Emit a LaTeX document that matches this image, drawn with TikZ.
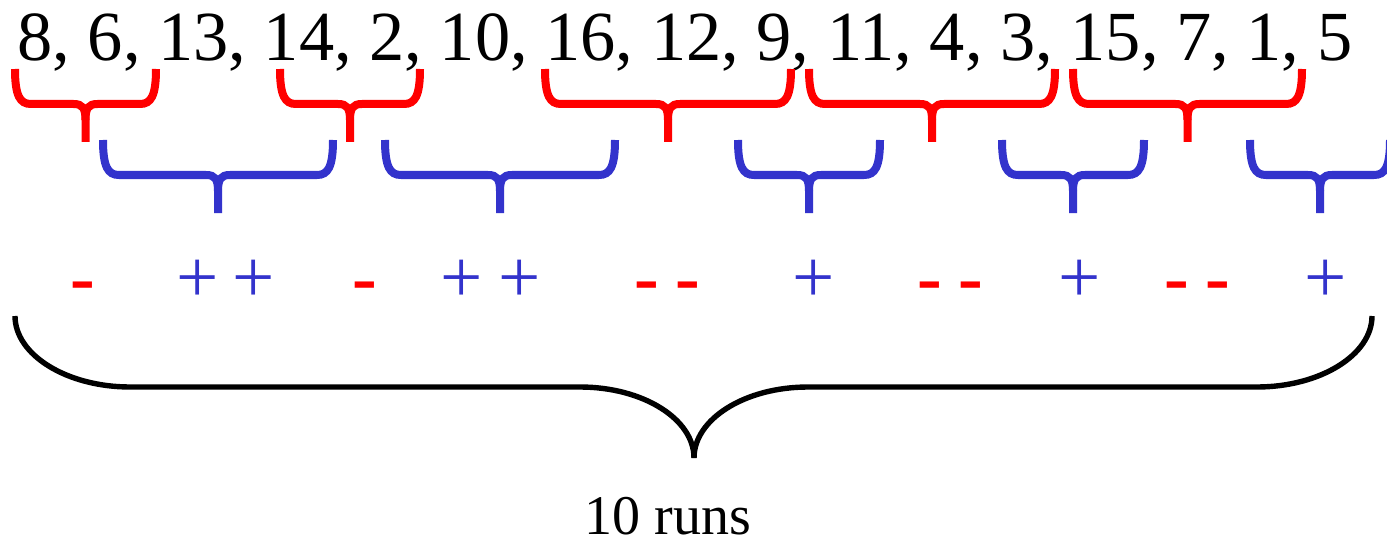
\documentclass[tikz,border=0pt]{standalone}
\usepackage{fontspec}
\setmainfont{Liberation Serif}
\usepackage{xcolor}
\usepackage{tikz}
\usetikzlibrary{positioning}
\definecolor{runred}{RGB}{255,0,0}
\definecolor{runblue}{RGB}{51,51,204}

\begin{document}
\begin{tikzpicture}[
    x=0.5pt, y=-0.5pt,
    seqtext/.style={font=\fontsize{35.2}{40}\selectfont, inner sep=0pt, anchor=base west},
    minus/.style={text=runred, font=\fontsize{37}{40}\selectfont\bfseries, inner sep=0pt, anchor=base},
    plus/.style={text=runblue, font=\fontsize{37.5}{40}\selectfont, inner sep=0pt, anchor=base},
    redbrace/.style={draw=runred, line width=4pt},
    bluebrace/.style={draw=runblue, line width=4pt},
    allbrace/.style={draw=black, line width=2.7pt}
  ]
  \useasboundingbox (0,0) rectangle (1387,540);
  \node[seqtext] (seq) at (17,61) {8, 6, 13, 14, 2, 10, 16, 12, 9, 11, 4, 3, 15, 7, 1, 5};

  % descending runs
  \foreach \a/\b in {15/156, 280/420, 545/791, 809/1055, 1073/1302} {
    \pgfmathsetmacro{\mx}{(\a+\b)/2}
    \draw[redbrace] (\a,69) .. controls (\a,96) and (\a+5,104) .. (\a+16,104) -- (\mx-12,104)
      .. controls (\mx-3,104) and (\mx,108) .. (\mx,120) -- (\mx,142);
    \draw[redbrace] (\b,69) .. controls (\b,96) and (\b-5,104) .. (\b-16,104) -- (\mx+12,104)
      .. controls (\mx+3,104) and (\mx,108) .. (\mx,120);
  }
  % ascending runs
  \foreach \a/\b in {103/333, 385/615, 738/880, 1002/1144, 1250/1390} {
    \pgfmathsetmacro{\mx}{(\a+\b)/2}
    \draw[bluebrace] (\a,140) .. controls (\a,167) and (\a+5,175) .. (\a+16,175) -- (\mx-12,175)
      .. controls (\mx-3,175) and (\mx,179) .. (\mx,191) -- (\mx,213);
    \draw[bluebrace] (\b,140) .. controls (\b,167) and (\b-5,175) .. (\b-16,175) -- (\mx+12,175)
      .. controls (\mx+3,175) and (\mx,179) .. (\mx,191);
  }

  \foreach \x [count=\i] in {83, 365, 647, 688, 930, 971, 1177, 1218}
    \node[minus] (dn\i) at (\x,302) {-};
  \foreach \x [count=\i] in {198, 254, 462, 520, 814, 1080, 1326}
    \node[plus] (up\i) at (\x,302) {+};

  \draw[allbrace] (15,316) .. controls (15,355) and (67,387) .. (130,387) -- (580,387)
    .. controls (643,387) and (694,419) .. (694,458);
  \draw[allbrace] (1372,316) .. controls (1372,355) and (1320,387) .. (1257,387) -- (808,387)
    .. controls (745,387) and (694,419) .. (694,458);

  \node[font=\fontsize{28}{32}\selectfont, inner sep=0pt, text depth=0pt, anchor=base west] (runs) at (584,534) {10 runs};
\end{tikzpicture}
\end{document}
